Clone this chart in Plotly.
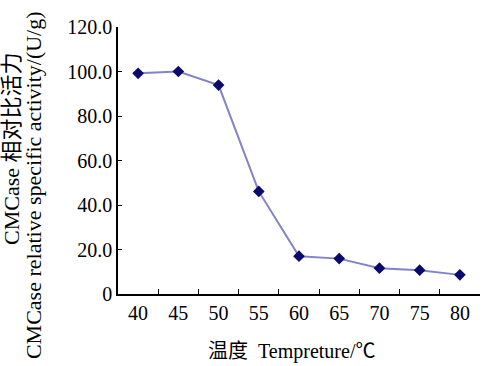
import plotly.graph_objects as go

temps = ["40", "45", "50", "55", "60", "65", "70", "75", "80"]
activity = [99.2, 100.0, 93.9, 46.1, 17.0, 15.9, 11.6, 10.7, 8.6]
y_ticks = [0, 20, 40, 60, 80, 100, 120]
y_labels = ["0", "20.0", "40.0", "60.0", "80.0", "100.0", "120.0"]
y_title_lines = ["CMCase 相对比活力", "CMCase relative specific activity/(U/g)"]
x_title = "温度  Tempreture/℃"

FONT = "Liberation Serif, Noto Sans CJK SC, serif"

fig = go.Figure(go.Scatter(
    x=temps, y=activity, mode="lines+markers",
    line=dict(color="#8283c9", width=2),
    marker=dict(symbol="diamond", size=9, color="#0a0a6e"),
))

fig.update_layout(
    width=489, height=366,
    margin=dict(l=118, r=9, t=27, b=72, autoexpand=False),
    paper_bgcolor="white", plot_bgcolor="white",
    showlegend=False,
    font=dict(family=FONT, size=20, color="black"),
    xaxis=dict(
        type="category", range=[-0.5, 8.5],
        showline=True, linecolor="black", linewidth=1.5,
        ticks="inside", tickson="boundaries", ticklen=5, tickcolor="black",
        showgrid=False, zeroline=False, automargin=False,
        tickfont=dict(size=20),
    ),
    yaxis=dict(
        range=[0, 120], tickvals=y_ticks, ticktext=y_labels,
        showline=True, linecolor="black", linewidth=1.5,
        ticks="inside", ticklen=4, tickcolor="black",
        showgrid=False, zeroline=False, automargin=False,
        tickfont=dict(size=20),
    ),
    annotations=[
        dict(text=y_title_lines[0], xref="paper", yref="paper",
             x=-0.2956, y=0.5468, xanchor="center", yanchor="middle",
             textangle=-90, showarrow=False, font=dict(size=22)),
        dict(text=y_title_lines[1], xref="paper", yref="paper",
             x=-0.2348, y=0.408, xanchor="center", yanchor="middle",
             textangle=-90, showarrow=False, font=dict(size=22)),
        dict(text=x_title, xref="paper", yref="paper",
             x=0.48, y=-0.217, xanchor="center", yanchor="middle",
             showarrow=False, font=dict(size=20)),
    ],
)

fig.write_html("out.html", config={"displayModeBar": False},
               post_script="document.body.style.margin='0';document.body.style.overflow='hidden';")
